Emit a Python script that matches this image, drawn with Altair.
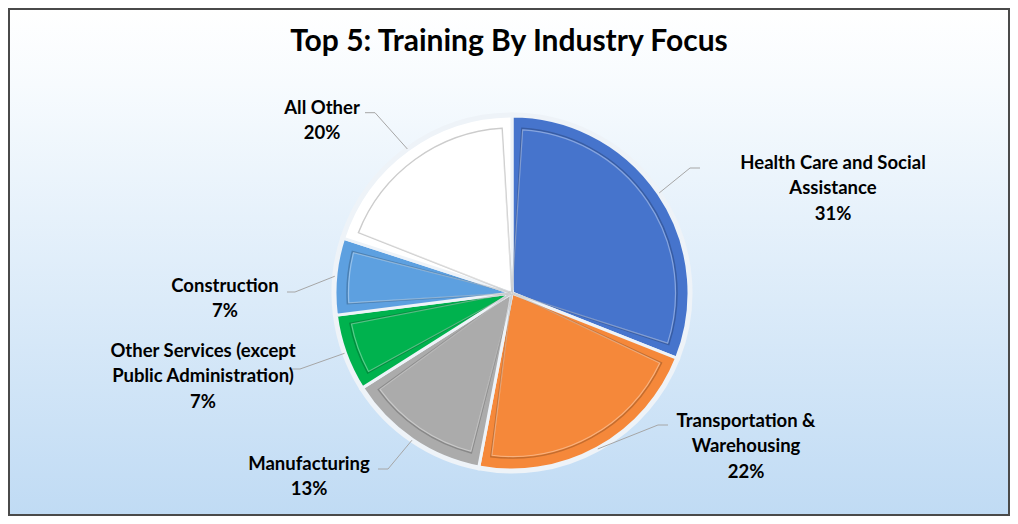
import altair as alt
import pandas as pd

# ---- data ----
categories = ["Health Care and Social Assistance", "Transportation & Warehousing",
              "Manufacturing", "Other Services (except Public Administration)",
              "Construction", "All Other"]
values = [31, 22, 13, 7, 7, 20]
label_text = ["Health Care and Social\nAssistance", "Transportation &\nWarehousing",
              "Manufacturing", "Other Services (except\nPublic Administration)",
              "Construction", "All Other"]
colors = ["#4674cc", "#f5883a", "#ababab", "#00b24e", "#5da0e0", "#ffffff"]

# ---- layout (label placement, chart pixel coords) ----
W, H = 1002, 508
CX, CY, R = 504, 285, 177
label_x = [825, 738, 301, 195, 217, 314]
label_y = [154.5, 412.5, 455.5, 342.5, 277.5, 99.5]
elbow_x = [682, 650, 380, 292, 287, 367]
elbow_y = [160, 417, 461, 361, 284, 104.7]
tail_x = [692, 660, 370, 284, 279, 357]

df = pd.DataFrame({
    "category": categories, "value": values, "label": label_text,
    "order": list(range(len(categories))),
    "lx": label_x, "ly": label_y, "ex": elbow_x, "ey": elbow_y, "tx": tail_x,
})

FONT = "Lato"

bg = alt.Chart(pd.DataFrame({"a": [0]})).mark_rect(
    color=alt.Gradient(gradient="linear", x1=0, x2=0, y1=0, y2=1,
                       stops=[alt.GradientStop(offset=0, color="#ffffff"),
                              alt.GradientStop(offset=0.15, color="#f7fbfe"),
                              alt.GradientStop(offset=1, color="#c0dbf4")]),
    stroke="#4a4a4a", strokeWidth=2
).encode(x=alt.value(1), x2=alt.value(W - 1), y=alt.value(1), y2=alt.value(H - 1))

base = alt.Chart(df)

theta = alt.Theta("value:Q", stack=True)
col = alt.Color("category:N", scale=alt.Scale(domain=categories, range=colors), legend=None)
order = alt.Order("order:Q")

shadow = base.mark_arc(radius=R + 2, fill="#a8b5c3", stroke="#eef3f8", strokeWidth=3).encode(
    theta=theta, order=order, x=alt.value(CX), y=alt.value(CY))

pie = base.mark_arc(radius=R, stroke="#eef3f8", strokeWidth=3).encode(
    theta=theta, color=col, order=order, x=alt.value(CX), y=alt.value(CY))

bevel = base.mark_arc(radius=R - 12, padAngle=0.12, fillOpacity=0,
                      stroke="#000000", strokeOpacity=0.2, strokeWidth=1.5).encode(
    theta=theta, order=order, x=alt.value(CX), y=alt.value(CY))

bevel2 = base.mark_arc(radius=R - 13.5, padAngle=0.13, fillOpacity=0,
                       stroke="#ffffff", strokeOpacity=0.35, strokeWidth=1.2).encode(
    theta=theta, order=order, x=alt.value(CX), y=alt.value(CY))

calc = base.transform_joinaggregate(total="sum(value)").transform_window(
    cum="sum(value)", sort=[alt.SortField("order")]
).transform_calculate(
    mid="(datum.cum - datum.value/2) / datum.total * 2 * PI",
).transform_calculate(
    sx=f"{CX} + {R + 1} * sin(datum.mid)",
    sy=f"{CY} - {R + 1} * cos(datum.mid)",
    txt="datum.label + '\\n' + round(datum.value / datum.total * 100) + '%'",
)

lead1 = calc.mark_rule(color="#a6a6a6", strokeWidth=1).encode(
    x=alt.X("sx:Q", scale=None, axis=None), y=alt.Y("sy:Q", scale=None, axis=None),
    x2="ex:Q", y2="ey:Q")
lead2 = calc.mark_rule(color="#a6a6a6", strokeWidth=1).encode(
    x=alt.X("ex:Q", scale=None, axis=None), y=alt.Y("ey:Q", scale=None, axis=None),
    x2="tx:Q", y2="ey:Q")

labels = calc.mark_text(font=FONT, fontSize=18.5, fontWeight="bold", color="#000000",
                        lineBreak="\n", lineHeight=25.5, align="center",
                        baseline="middle").encode(
    x=alt.X("lx:Q", scale=None, axis=None), y=alt.Y("ly:Q", scale=None, axis=None),
    text="txt:N")

title = alt.Chart(pd.DataFrame({"t": ["Top 5: Training By Industry Focus"]})).mark_text(
    font=FONT, fontSize=30, fontWeight="bold", color="#000000",
    align="center", baseline="middle").encode(
    x=alt.value(501), y=alt.value(34), text="t:N")

chart = alt.layer(bg, shadow, pie, bevel, bevel2, lead1, lead2, labels, title).properties(
    width=W, height=H,
    autosize=alt.AutoSizeParams(type="fit", contains="padding"),
    padding=0,
).configure_view(stroke=None)

chart.save("out.html", embed_options={"renderer": "svg", "actions": False})
